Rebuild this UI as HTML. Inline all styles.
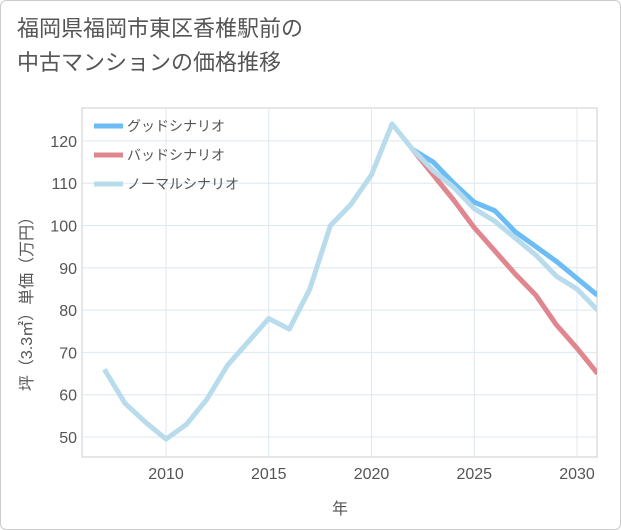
<!DOCTYPE html>
<html><head><meta charset="utf-8">
<style>
body{margin:0;background:#fff;font-family:"Liberation Sans","Noto Sans CJK JP",sans-serif;}
#card{position:absolute;left:0;top:0;width:619px;height:528px;border:1px solid #ccc;border-radius:6px;background:#fff;}
#title{position:absolute;left:17px;top:12px;font-size:22px;line-height:34px;color:#555;}
</style></head><body>
<div id="card"></div>
<div id="title">福岡県福岡市東区香椎駅前の<br>中古マンションの価格推移</div>
<svg id="chart" width="621" height="530" style="position:absolute;left:0;top:0"></svg>
<script>
const years=[2007,2008,2009,2010,2011,2012,2013,2014,2015,2016,2017,2018,2019,2020,2021,2022,2023,2024,2025,2026,2027,2028,2029,2030,2031];
const normal=[66,58,53.5,49.5,53,59,67,72.5,78,75.5,85,100,105,112,124,118,113,109,104,101,97,93,88,85,80];
const goodYears=[2022,2023,2024,2025,2026,2027,2028,2029,2030,2031];
const good=[118,115,110,105.5,103.5,98.5,95,91.5,87.5,83.5];
const bad=[118,112,106,99.5,94,88.5,83.5,76.5,71,65];
const xTicks=[2010,2015,2020,2025,2030];
const yTicks=[50,60,70,80,90,100,110,120];
const NS="http://www.w3.org/2000/svg";
const svg=document.getElementById('chart');
const L=82,R=597,T=108,B=457;
const x=v=>166+(v-2010)*20.55;
const y=v=>437-(v-50)*4.23;
function el(t,a){const e=document.createElementNS(NS,t);for(const k in a)e.setAttribute(k,a[k]);svg.appendChild(e);return e;}
const bg=el('rect',{x:L,y:T,width:R-L,height:B-T,fill:'#fff',stroke:'#ccc'});


xTicks.forEach(v=>{
  const g=el('line',{x1:x(v),x2:x(v),y1:T,y2:B,stroke:'#dde8f0'});
  
  
  const t=el('text',{x:x(v),y:479,'text-anchor':'middle','font-size':16,fill:'#555'});t.textContent=v;
  
  
});
yTicks.forEach(v=>{
  const g=el('line',{x1:L,x2:R,y1:y(v),y2:y(v),stroke:'#dde8f0'});
  
  
  const t=el('text',{x:77,y:y(v)+6,'text-anchor':'end','font-size':16,fill:'#555'});t.textContent=v;
  
  
});
const xt=el('text',{x:340,y:514,'text-anchor':'middle','font-size':16,fill:'#555'});xt.textContent='年';


const yt=el('text',{x:0,y:0,'text-anchor':'middle','font-size':16,fill:'#555',transform:'translate(32,300) rotate(-90)'});yt.textContent='坪（3.3㎡）単価（万円）';


const clip=el('clipPath',{id:'c'});const cr=document.createElementNS(NS,'rect');cr.setAttribute('x',L);cr.setAttribute('y',T);cr.setAttribute('width',R-L);cr.setAttribute('height',B-T);clip.appendChild(cr);
function line(xs,vs,c,name){
  const p=el('polyline',{points:xs.map((v,i)=>x(v)+','+y(vs[i])).join(' '),fill:'none',stroke:c,'stroke-width':5,'stroke-linejoin':'round','clip-path':'url(#c)'});
  
  
}
line(goodYears,good,'#6cbcf5','good-scenario-line');
line(goodYears,bad,'#e0868e','bad-scenario-line');
line(years,normal,'#b9dcec','normal-scenario-line');
[['グッドシナリオ','#6cbcf5'],['バッドシナリオ','#e0868e'],['ノーマルシナリオ','#b9dcec']].forEach((d,i)=>{
  const yy=126+i*29;
  const l=el('line',{x1:94,x2:123,y1:yy,y2:yy,stroke:d[1],'stroke-width':5});
  
  
  const t=el('text',{x:127,y:yy+5,'font-size':14,fill:'#555'});t.textContent=d[0];
  
  
});
</script>
</body></html>
